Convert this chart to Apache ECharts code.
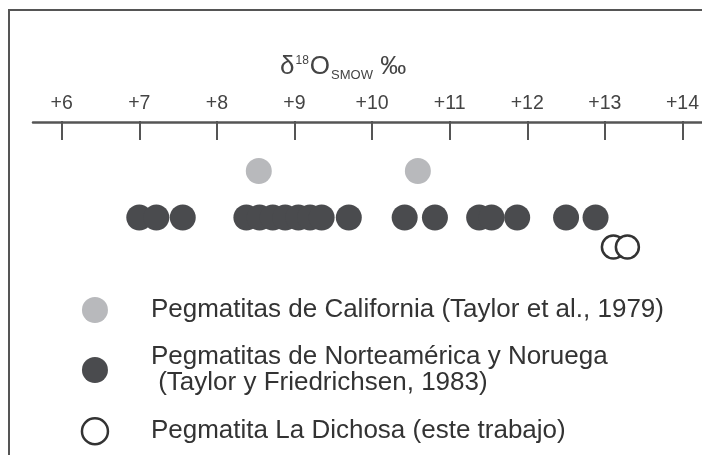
<!DOCTYPE html>
<html>
<head>
<meta charset="utf-8">
<script src="https://cdn.jsdelivr.net/npm/echarts@6/dist/echarts.min.js"></script>
<style>
html,body{margin:0;padding:0;background:#fff;}
#chart{width:702px;height:455px;}
</style>
</head>
<body>
<div id="chart"></div>
<script>
// ---- data ----
const axisMin = 6;
const axisMax = 14;
const tickStep = 1;
const tickPrefix = '+';
const seriesNames = [
  'Pegmatitas de California (Taylor et al., 1979)',
  'Pegmatitas de Norteamérica y Noruega\n (Taylor y Friedrichsen, 1983)',
  'Pegmatita La Dichosa (este trabajo)'
];
const californiaValues = [8.54, 10.59];
const norteamericaValues = [7.0, 7.22, 7.56, 8.38, 8.55, 8.72, 8.88, 9.05, 9.20, 9.35, 9.70, 10.42, 10.81, 11.38, 11.54, 11.87, 12.50, 12.88];
const dichosaValues = [13.11, 13.29];

// row levels (vertical lanes of the strip plot)
const rowCalifornia = 50;
const rowNorte = 96.5;
const rowDichosa = 126;

const FONT = "'Liberation Sans', Arial, sans-serif";
const chart = echarts.init(document.getElementById('chart'), null, {renderer: 'canvas'});

function pts(vals, row) { return vals.map(v => [v, row]); }

const big = {fontSize: 26, fontWeight: 'normal', fontFamily: FONT, color: '#444', lineHeight: 30, verticalAlign: 'middle'};

chart.setOption({
  animation: false,
  backgroundColor: '#fff',
  textStyle: {fontFamily: FONT},
  title: {
    left: 275, top: 47,
    text: '{d|δ}{sup|18}{o|O}{sub|SMOW}{pm| ‰}',
    textStyle: {
      fontSize: 26, fontWeight: 'normal', color: '#444', fontFamily: FONT,
      rich: {
        d: big,
        o: big,
        pm: big,
        sup: {fontSize: 12, fontWeight: 'normal', fontFamily: FONT, color: '#444', lineHeight: 12, verticalAlign: 'top', padding: [3, 1, 0, 1]},
        sub: {fontSize: 13, fontWeight: 'normal', fontFamily: FONT, color: '#444', lineHeight: 13, verticalAlign: 'bottom', padding: [0, 0, 0, 1]}
      }
    }
  },
  legend: {
    orient: 'vertical',
    left: 80.7, top: 297,
    padding: 0,
    itemWidth: 26, itemHeight: 26,
    itemGap: 21,
    selectedMode: false,
    data: [
      {name: seriesNames[0], icon: 'circle'},
      {name: seriesNames[1], icon: 'circle'},
      {name: seriesNames[2], icon: 'circle', itemStyle: {color: '#fff', borderColor: '#333', borderWidth: 2.5}}
    ],
    textStyle: {fontSize: 26, lineHeight: 26, color: '#333', fontFamily: FONT, padding: [0, 0, 0, 38]}
  },
  graphic: [
    {type: 'polyline', shape: {points: [[9, 455], [9, 10], [702, 10]]}, style: {stroke: '#555', lineWidth: 2, fill: null}, silent: true}
  ],
  grid: [
    {left: 33, right: 0, top: 121, height: 1, containLabel: false},
    {left: 61.7, right: 18, top: 121, height: 150, containLabel: false}
  ],
  xAxis: [
    {gridIndex: 0, type: 'value', position: 'top', min: 0, max: 1,
     axisLine: {show: true, lineStyle: {color: '#555', width: 2.5}},
     axisTick: {show: false}, axisLabel: {show: false}, splitLine: {show: false}},
    {gridIndex: 1, type: 'value', position: 'top', min: axisMin, max: axisMax, interval: tickStep,
     axisLine: {show: false},
     axisTick: {show: true, inside: true, length: 19, lineStyle: {color: '#555', width: 2}},
     axisLabel: {show: true, margin: 7, fontSize: 19.5, color: '#444', fontFamily: FONT,
                 formatter: v => tickPrefix + v},
     splitLine: {show: false}}
  ],
  yAxis: [
    {gridIndex: 0, type: 'value', show: false},
    {gridIndex: 1, type: 'value', show: false, min: 0, max: 150, inverse: true}
  ],
  series: [
    {name: seriesNames[0], type: 'scatter', xAxisIndex: 1, yAxisIndex: 1, symbol: 'circle', symbolSize: 26,
     itemStyle: {color: '#b8b9bc', opacity: 1}, emphasis: {disabled: true}, data: pts(californiaValues, rowCalifornia)},
    {name: seriesNames[1], type: 'scatter', xAxisIndex: 1, yAxisIndex: 1, symbol: 'circle', symbolSize: 26,
     itemStyle: {color: '#4a4b4e', opacity: 1}, emphasis: {disabled: true}, data: pts(norteamericaValues, rowNorte)},
    {name: seriesNames[2], type: 'scatter', xAxisIndex: 1, yAxisIndex: 1, symbol: 'circle', symbolSize: 23,
     itemStyle: {color: '#ffffff', borderColor: '#333', borderWidth: 2.5, opacity: 1}, emphasis: {disabled: true}, data: pts(dichosaValues, rowDichosa)}
  ]
});
</script>
</body>
</html>
